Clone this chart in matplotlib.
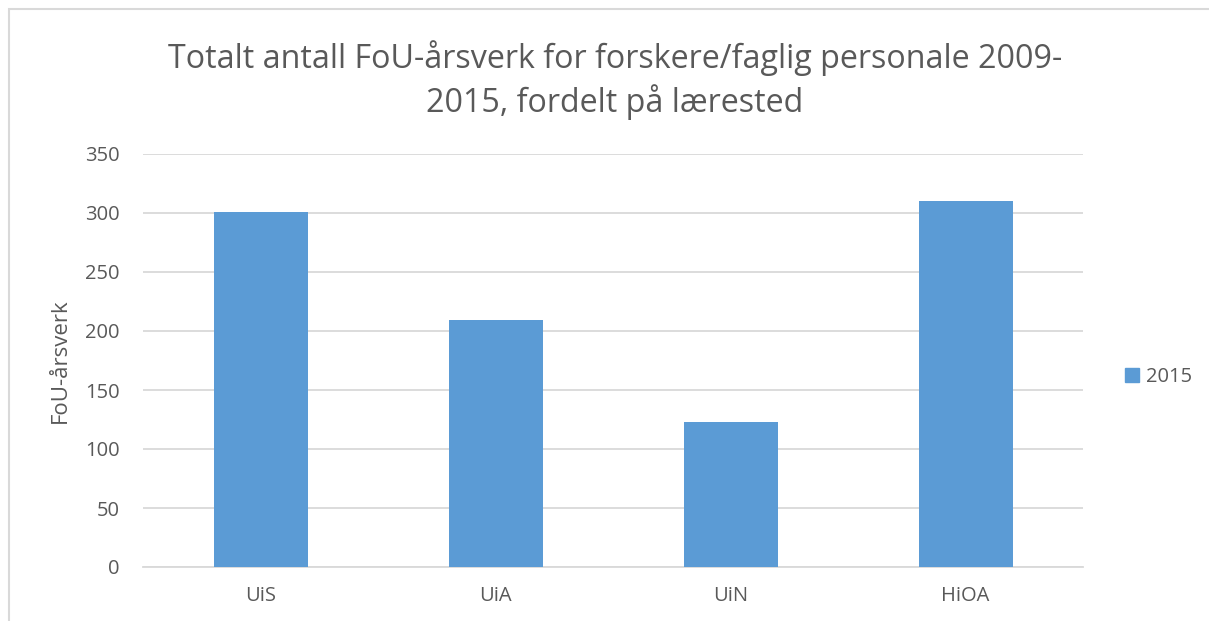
import matplotlib
matplotlib.use("Agg")
import matplotlib.pyplot as plt
from matplotlib.patches import Rectangle, Patch

categories = ["UiS", "UiA", "UiN", "HiOA"]
values_2015 = [301, 209, 123, 310]
series_name = "2015"
yticks = [0, 50, 100, 150, 200, 250, 300, 350]
title = "Totalt antall FoU-årsverk for forskere/faglig personale 2009-\n2015, fordelt på lærested"
ylabel = "FoU-årsverk"

plt.rcParams['font.family'] = ['Open Sans', 'DejaVu Sans']
W, H = 1209, 621
fig = plt.figure(figsize=(W/100, H/100), dpi=100)
ax = fig.add_axes([143/W, 1-567/H, 940/W, 413/H])

txt = "#595959"
x = list(range(len(categories)))
ax.bar(x, values_2015, width=0.4, color="#5B9BD5", zorder=3)
ax.set_xlim(-0.5, 3.5)
ax.set_ylim(0, 350)
ax.set_yticks(yticks)
ax.set_xticks(x)
ax.set_xticklabels(categories)
ax.grid(axis='y', color="#D9D9D9", linewidth=1.3, zorder=0)
for s in ['top', 'right', 'left']:
    ax.spines[s].set_visible(False)
ax.spines['bottom'].set_color("#D9D9D9")
ax.spines['bottom'].set_linewidth(1.3)
ax.tick_params(axis='both', length=0, labelsize=14.5, colors=txt)
ax.tick_params(axis='y', pad=17)
ax.tick_params(axis='x', pad=14)
ax.set_ylabel(ylabel, fontsize=16, color=txt, labelpad=10)

fig.text(615/W, 1-80/H, title, ha='center', va='center', fontsize=23.2,
         color=txt, linespacing=1.3)

fig.legend(handles=[Patch(color="#5B9BD5", label=series_name)],
           loc='center left', bbox_to_anchor=(1107/W, 1-377/H), frameon=False,
           fontsize=14.5, labelcolor=txt, handlelength=0.7, handleheight=0.7,
           handletextpad=0.35)

fig.patches.append(Rectangle((9/W, -0.1), 1.2, 1 - 9/H + 0.1, transform=fig.transFigure,
                             fill=False, edgecolor="#D9D9D9", linewidth=1.5))

fig.savefig("out.png", dpi=100)
